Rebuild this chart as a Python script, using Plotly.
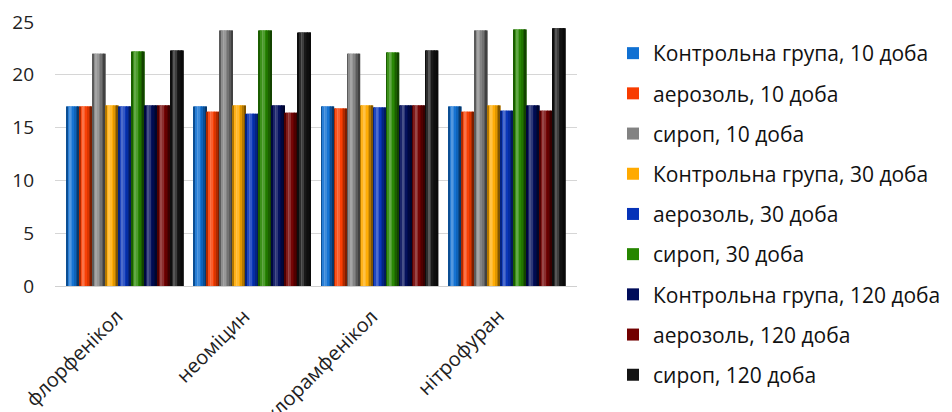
import plotly.graph_objects as go

categories = ["флорфенікол", "неоміцин", "хлорамфенікол", "нітрофуран"]

series_names = [
    "Контрольна група, 10 доба",
    "аерозоль, 10 доба",
    "сироп, 10 доба",
    "Контрольна група, 30 доба",
    "аерозоль, 30 доба",
    "сироп, 30 доба",
    "Контрольна група, 120 доба",
    "аерозоль, 120 доба",
    "сироп, 120 доба",
]

control_10 = [17.0, 17.0, 17.0, 17.0]
aerosol_10 = [17.0, 16.5, 16.8, 16.5]
syrup_10 = [22.0, 24.2, 22.0, 24.2]
control_30 = [17.1, 17.1, 17.1, 17.1]
aerosol_30 = [17.0, 16.3, 16.9, 16.6]
syrup_30 = [22.2, 24.2, 22.1, 24.3]
control_120 = [17.1, 17.1, 17.1, 17.1]
aerosol_120 = [17.1, 16.4, 17.1, 16.6]
syrup_120 = [22.3, 24.0, 22.3, 24.4]

series_values = [
    control_10, aerosol_10, syrup_10,
    control_30, aerosol_30, syrup_30,
    control_120, aerosol_120, syrup_120,
]

colors = [
    "#1070D2", "#F83C00", "#828282",
    "#FFAA00", "#0633B8", "#268600",
    "#000C5A", "#720000", "#141414",
]

FONT = "Open Sans"

# cylinder-like shading across each bar: (lighten > 0, darken < 0)
shade_profile = [-0.30, 0.10, 0.28, 0.18, 0.02, -0.12, -0.30, -0.50]


def shade(hex_color, amt):
    r, g, b = (int(hex_color[i:i + 2], 16) for i in (1, 3, 5))
    if amt >= 0:
        r, g, b = (v + (255 - v) * amt for v in (r, g, b))
    else:
        r, g, b = (v * (1 + amt) for v in (r, g, b))
    return "rgb({:.0f},{:.0f},{:.0f})".format(r, g, b)


n_series = len(series_names)
group_width = 0.92
bar_w = group_width / n_series
n_strips = len(shade_profile)
strip_w = bar_w / n_strips

fig = go.Figure()
for i, (name, vals, col) in enumerate(zip(series_names, series_values, colors)):
    off = -group_width / 2 + i * bar_w
    fig.add_trace(go.Bar(
        x=categories, y=vals, name=name,
        marker=dict(color=col, line=dict(width=0)),
        offset=off, width=bar_w, legendgroup=f"g{i}",
    ))
    for k, amt in enumerate(shade_profile):
        fig.add_trace(go.Bar(
            x=categories, y=vals, name=name,
            marker=dict(color=shade(col, amt), line=dict(width=0)),
            offset=off + k * strip_w, width=strip_w * 1.02,
            legendgroup=f"g{i}", showlegend=False, hoverinfo="skip",
        ))

# rotated category labels below the axis
for cat in categories:
    fig.add_annotation(
        x=cat, y=0, xref="x", yref="y", text=cat, showarrow=False,
        textangle=-45, xanchor="right", yanchor="top",
        xshift=6, yshift=-14,
        font=dict(family=FONT, size=20, color="#222222"),
    )

fig.update_layout(
    width=952, height=412,
    barmode="overlay",
    paper_bgcolor="white", plot_bgcolor="white",
    margin=dict(l=55, r=375, t=22, b=126, autoexpand=False),
    font=dict(family=FONT, size=18, color="#222222"),
    showlegend=True,
    legend=dict(
        xref="container", yref="container",
        x=613 / 952, y=1 - 33 / 412, xanchor="left", yanchor="top",
        font=dict(family=FONT, size=21, color="#111111"),
        tracegroupgap=9.9, bgcolor="rgba(0,0,0,0)",
        maxheight=1.0,
    ),
    xaxis=dict(
        range=[-0.55, 3.55], automargin=False, showticklabels=False,
        showline=True, linecolor="#D0D0D0", linewidth=1, ticks="",
    ),
    yaxis=dict(
        range=[0, 25], dtick=5, showgrid=True, gridcolor="#D6D6D6", gridwidth=1,
        zeroline=False, ticks="", automargin=False,
        tickfont=dict(family=FONT, size=19, color="#222222"),
        ticklabelstandoff=20,
    ),
)

fig.write_html("out.html")
